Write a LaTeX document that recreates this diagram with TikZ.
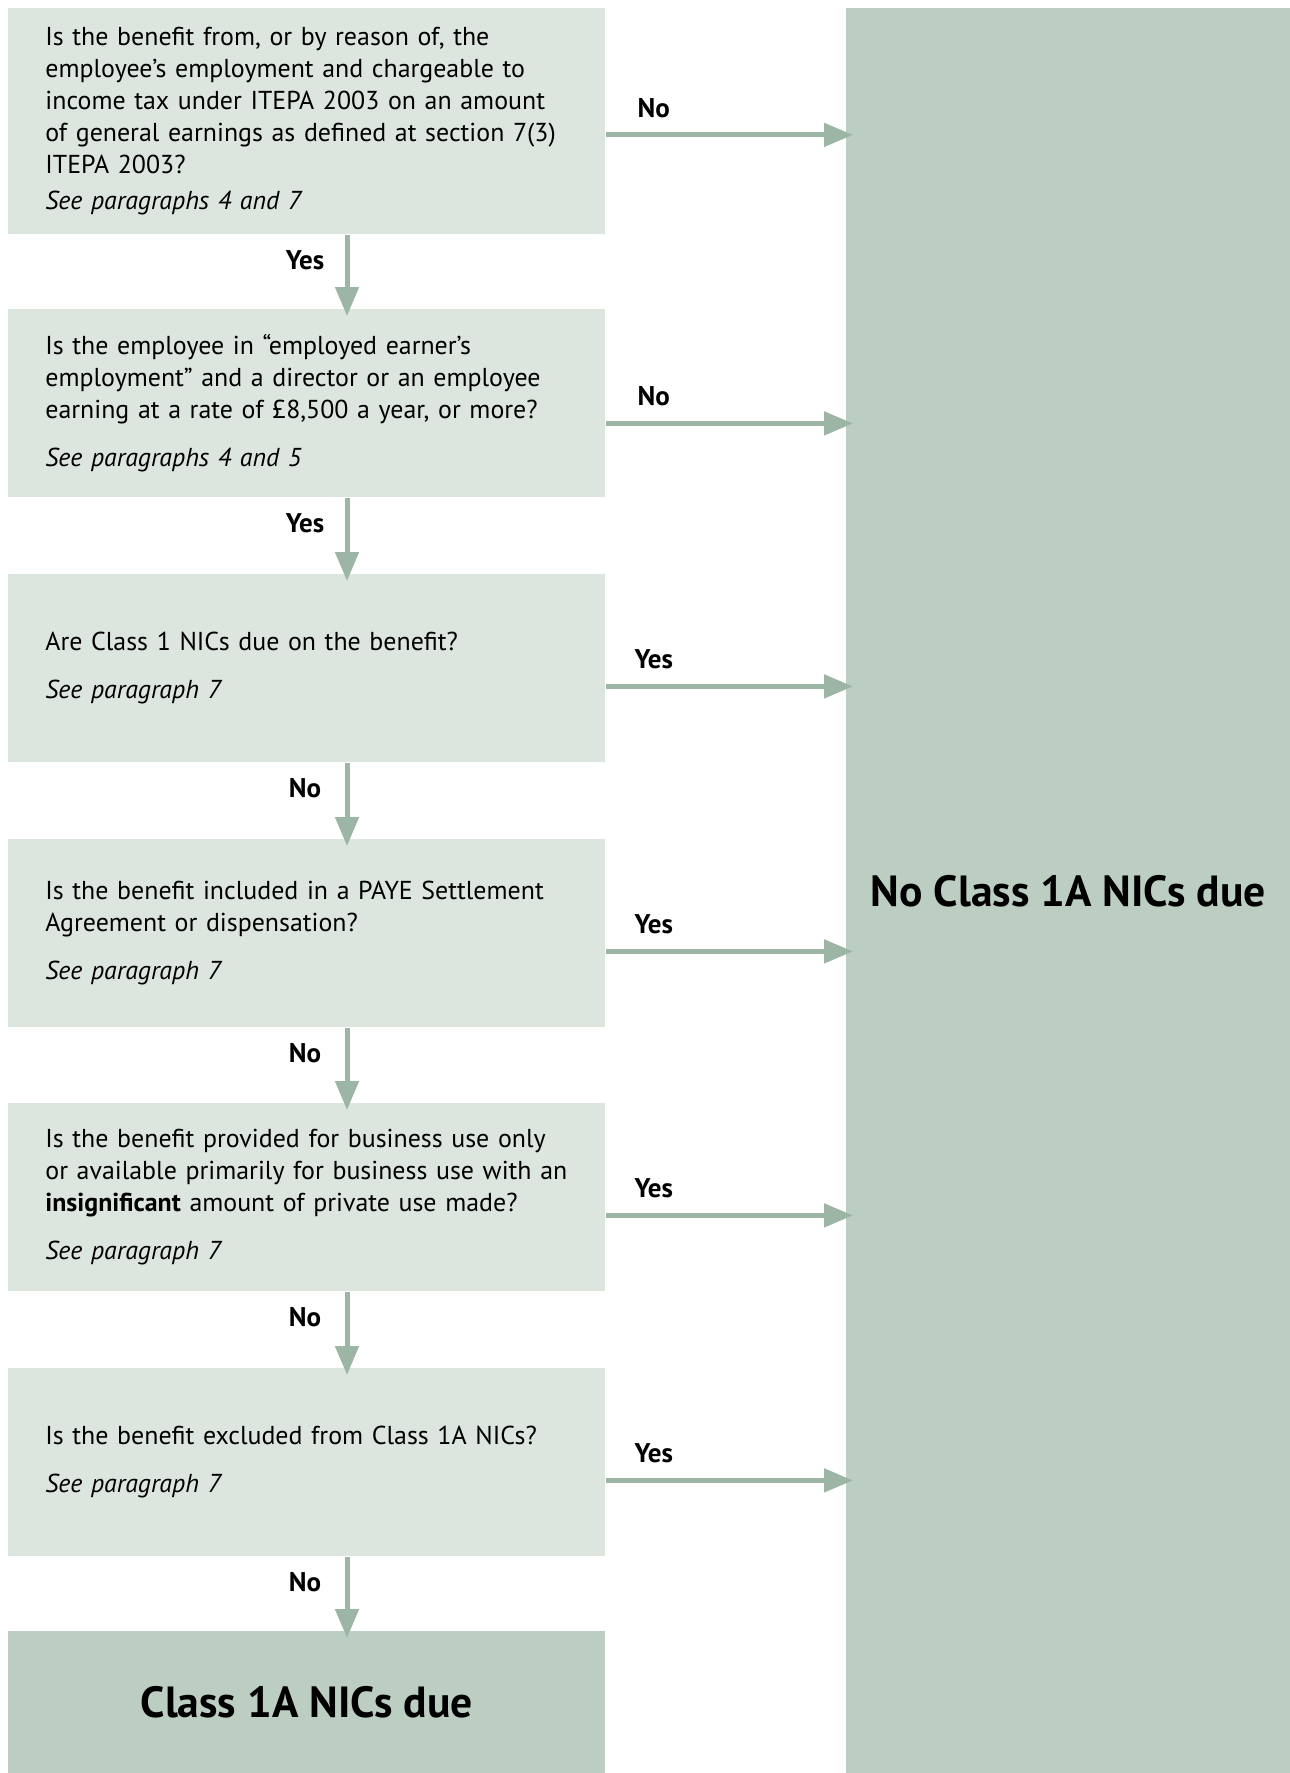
\documentclass[tikz,border=0pt]{standalone}
\usepackage{fontspec}
\setmainfont{PT Sans}
\usetikzlibrary{calc,arrows.meta,positioning}
\definecolor{qfill}{HTML}{DCE5DE}
\definecolor{endfill}{HTML}{BCCDC2}
\definecolor{flowcol}{HTML}{9CB5A4}
\tikzset{
  qbox/.style={fill=qfill, anchor=north west, minimum width=298.5pt, minimum height=94pt,
    text width=261.5pt, inner xsep=18.5pt, inner ysep=0pt, align=left,
    font=\fontsize{12.95}{16}\selectfont},
  endbox/.style={fill=endfill, anchor=north west, inner sep=0pt,
    font=\fontsize{21.8}{26}\selectfont\bfseries},
  flow/.style={draw=flowcol, line width=2.5pt, -{Triangle[length=14.5pt,width=11.5pt]},
    shorten >=-3.5pt},
  ans/.style={font=\fontsize{13.5}{16}\selectfont\bfseries},
}

\begin{document}
\begin{tikzpicture}[x=0.5pt,y=-0.5pt]
    \useasboundingbox (0,0) rectangle (1290,1773);

    % question boxes
    \node[qbox, minimum height=113pt] (q1) at (8,8) {Is the benefit from, or by reason of, the\\
      employee’s employment and chargeable to\\
      income tax under ITEPA 2003 on an amount\\
      of general earnings as defined at section 7(3)\\
      ITEPA 2003?\\[2pt]
      \textit{See paragraphs 4 and 7}};
    \node[qbox] (q2) at (8,309) {Is the employee in “employed earner’s\\
      employment” and a director or an employee\\
      earning at a rate of £8,500 a year, or more?\\[8pt]
      \textit{See paragraphs 4 and 5}};
    \node[qbox] (q3) at (8,574) {Are Class 1 NICs due on the benefit?\\[8pt]
      \textit{See paragraph 7}};
    \node[qbox] (q4) at (8,839) {Is the benefit included in a PAYE Settlement\\
      Agreement or dispensation?\\[8pt]
      \textit{See paragraph 7}};
    \node[qbox] (q5) at (8,1103) {Is the benefit provided for business use only\\
      or available primarily for business use with an\\
      \textbf{insignificant} amount of private use made?\\[8pt]
      \textit{See paragraph 7}};
    \node[qbox] (q6) at (8,1368) {Is the benefit excluded from Class 1A NICs?\\[8pt]
      \textit{See paragraph 7}};

    % outcomes
    \node[endbox, minimum width=298.5pt, minimum height=71pt] (due) at (8,1631) {Class 1A NICs due};
    \node[endbox, minimum width=222pt, minimum height=882.5pt] (nodue) at (846,8) {No Class 1A NICs due};

    % down the column
    \foreach \a/\b/\lab in {q1/q2/Yes, q2/q3/Yes, q3/q4/No, q4/q5/No, q5/q6/No, q6/due/No} {
        \draw[flow] ($(\a.south west)+(339,0)$) -- ($(\b.north west)+(339,0)$);
        \node[ans] at ($(\a.south west)+(297,25)$) {\lab};
    }

    % across to the right
    \foreach \q/\dy/\lab in {q1/13.5/No, q2/20/No, q3/18/Yes, q4/18/Yes, q5/18/Yes, q6/18/Yes} {
        \coordinate (s) at ($(\q.east)+(0,\dy)$);
        \draw[flow] (s) -- (s -| nodue.west);
        \node[ans] at ($(s)+(48,-27)$) {\lab};
    }
\end{tikzpicture}
\end{document}
